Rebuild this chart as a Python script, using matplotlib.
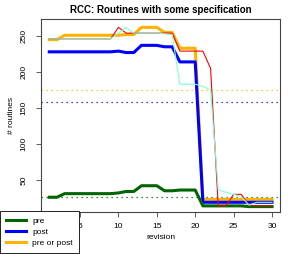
import matplotlib
matplotlib.use("Agg")
import matplotlib.pyplot as plt
import numpy as np

plt.rcParams['font.family'] = ['Liberation Sans', 'DejaVu Sans']

revision = list(range(1, 31))
pre = [26, 26, 31, 31, 31, 31, 31, 31, 31, 32, 34, 34, 42, 42, 42, 35, 35, 36, 36, 36,
       14, 14, 14, 14, 14, 14, 13, 13, 13, 13]
post = [228, 228, 228, 228, 228, 228, 228, 228, 228, 229, 227, 227, 237, 237, 237, 235, 235, 214, 214, 214,
        19, 19, 19, 19, 19, 19, 19, 19, 19, 19]
pre_or_post = [245, 245, 251, 251, 251, 251, 251, 251, 251, 251, 252, 252, 262, 262, 262, 255, 255, 233, 233, 233,
               23, 23, 23, 23, 23, 23, 23, 23, 23, 23]
other_red = [246, 246, 246, 246, 246, 246, 246, 246, 246, 262, 254, 254, 254, 254, 254, 254, 254, 229, 229, 229,
             229, 205, 14, 14, 30, 30, 15, 14, 14, 14]
other_aqua = [246, 246, 246, 246, 246, 246, 246, 246, 246, 254, 262, 254, 254, 254, 254, 253, 252, 183, 183, 183,
              180, 175, 36, 33, 30, 27, 15, 19, 19, 19]
mean_pre = 27
mean_post = 158
mean_pre_or_post = 175

fig = plt.figure(figsize=(2.94, 2.54), dpi=100)
ax = fig.add_axes([41/294, 1-212/254, 239/294, 193/254])

ax.plot(revision, other_red, color="red", lw=0.8, zorder=3)
ax.plot(revision, other_aqua, color="aquamarine", lw=0.8, zorder=3)
ax.plot(revision, pre_or_post, color="#FFB300", lw=2.2, zorder=2, label="pre or post")
ax.plot(revision, post, color="blue", lw=2.2, zorder=2, label="post")
ax.plot(revision, pre, color="darkgreen", lw=2.2, zorder=2, label="pre")
ax.axhline(mean_pre, color="darkgreen", ls=(0, (1, 3)), lw=0.9, zorder=1)
ax.axhline(mean_post, color="blue", ls=(0, (1, 3)), lw=0.9, zorder=1)
ax.axhline(mean_pre_or_post, color="#FFB300", ls=(0, (1, 3)), lw=0.9, zorder=1)

ax.set_xlim(-0.08, 31.04)
ax.set_ylim(5.5, 273.6)
ax.set_xticks([5, 10, 15, 20, 25, 30])
ax.set_yticks([50, 100, 150, 200, 250])
ax.tick_params(labelsize=6, length=3.6, width=0.6, color="#444444")
ax.tick_params(axis="x", pad=4.5)
ax.tick_params(axis="y", pad=6)
for lab in ax.get_yticklabels():
    lab.set_rotation(90)
    lab.set_va("center")
for s in ax.spines.values():
    s.set_color("#444444")
    s.set_linewidth(0.8)

ax.set_title("RCC: Routines with some specification", fontsize=7, fontweight="bold", pad=4)
ax.set_xlabel("revision", fontsize=6, labelpad=3)
ax.set_ylabel("# routines", fontsize=6, labelpad=4)

h, l = ax.get_legend_handles_labels()
order = [2, 1, 0]
leg = fig.legend([h[i] for i in order], [l[i] for i in order], loc="upper left",
                 bbox_to_anchor=(0.0, 1-211/254), fontsize=6, frameon=True, fancybox=False,
                 edgecolor="black", framealpha=1, handlelength=2.4, handletextpad=0.7,
                 borderpad=0.75, labelspacing=0.35, borderaxespad=0.0)
leg.get_frame().set_linewidth(0.6)
for line in leg.get_lines():
    line.set_linewidth(2.2)

fig.savefig("out.png", dpi=100)
